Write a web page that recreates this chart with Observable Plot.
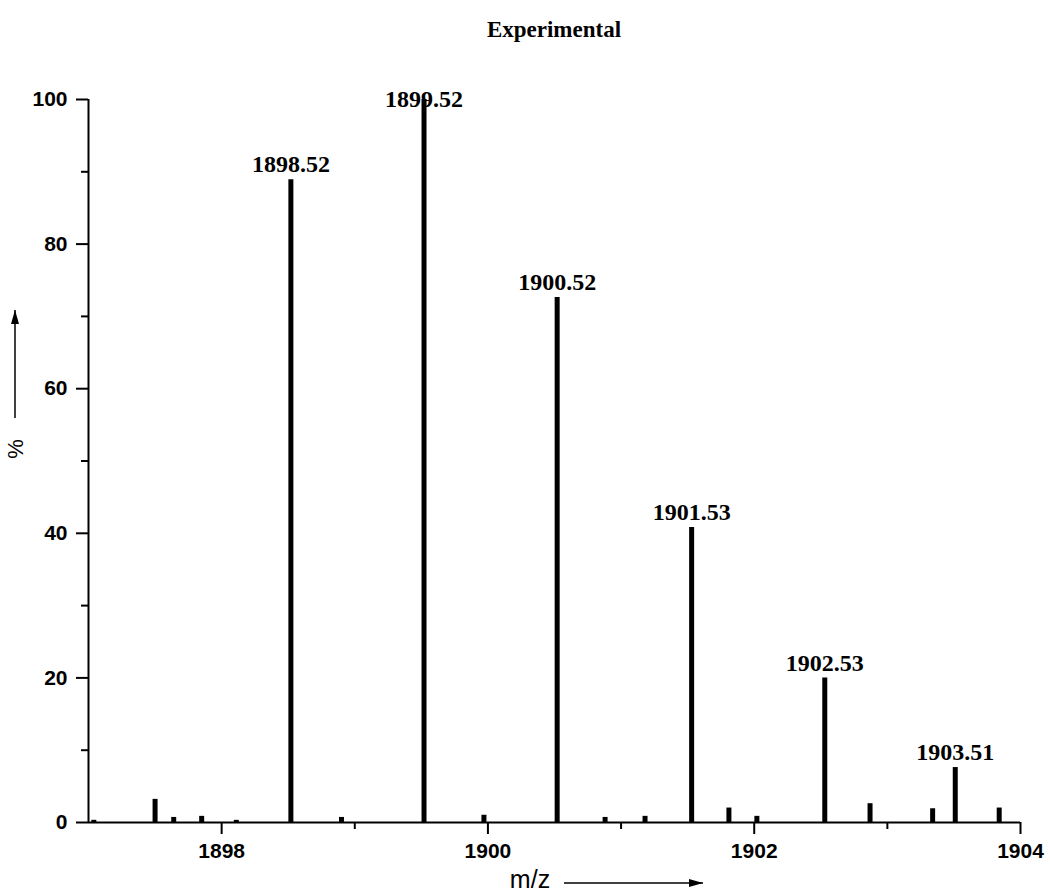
<!DOCTYPE html>
<html><head><meta charset="utf-8">
<script src="https://cdn.jsdelivr.net/npm/d3@7"></script>
<script src="https://cdn.jsdelivr.net/npm/@observablehq/plot@0.6"></script>
<style>
body{margin:0;background:#fff;}
#title{margin-left:88px;width:932px;height:60px;text-align:center;font:bold 23px/60px "Liberation Serif","Times New Roman",serif;color:#000;}
</style></head><body>
<div id="title">Experimental</div>
<div id="chart"></div>
<script>
// peak positions (m/z) and relative intensities (%)
const peakMz  = [1897.04, 1897.50, 1897.64, 1897.85, 1898.11, 1898.52, 1898.90, 1899.52, 1899.97, 1900.52, 1900.88, 1901.18, 1901.53, 1901.81, 1902.02, 1902.53, 1902.87, 1903.34, 1903.51, 1903.84];
const peakPct = [0.3,     3.2,     0.7,     0.85,    0.3,     88.9,    0.7,     100,     1.0,     72.6,    0.7,     0.85,    40.8,    2.0,     0.85,    20.0,    2.6,     1.9,     7.6,     2.0];
const labelMz = [1898.52, 1899.52, 1900.52, 1901.53, 1902.53, 1903.51];
const yMajorTicks = [0, 20, 40, 60, 80, 100];
const yMinorTicks = [10, 30, 50, 70, 90];
const xMajorTicks = [1898, 1900, 1902, 1904];
const xMinorTicks = [1899, 1901, 1903];
const xDomain = [1897, 1904];
const yDomain = [0, 100];
const xTitle = "m/z";
const yTitle = "%";

const peaks = peakMz.map((mz, i) => ({mz, pct: peakPct[i]}));
const labels = labelMz.map(mz => peaks.find(p => p.mz === mz));

const sans = "'Liberation Sans', Arial, sans-serif";
const serif = "'Liberation Serif', 'Times New Roman', serif";

const plot = Plot.plot({
  width: 1050, height: 835,
  marginTop: 39, marginBottom: 73, marginLeft: 88, marginRight: 30,
  style: {fontFamily: sans, background: "white", color: "black", overflow: "visible"},
  x: {domain: xDomain},
  y: {domain: yDomain},
  marks: [
    Plot.axisY({ticks: yMajorTicks, tickSize: 12, tickPadding: 9, tickFormat: d => String(d), fontSize: 21, fontWeight: "bold", strokeWidth: 2, label: null}),
    Plot.axisY({ticks: yMinorTicks, tickSize: 7, text: null, strokeWidth: 2, label: null}),
    Plot.axisX({ticks: xMajorTicks, tickSize: 12, tickPadding: 9, tickFormat: d => String(d), fontSize: 21, fontWeight: "bold", strokeWidth: 2, label: null}),
    Plot.axisX({ticks: xMinorTicks, tickSize: 7, text: null, strokeWidth: 2, label: null}),
    Plot.ruleX(peaks, {x: "mz", y1: 0, y2: "pct", stroke: "black", strokeWidth: 5}),
    Plot.ruleY([yDomain[0]], {stroke: "black", strokeWidth: 2}),
    Plot.ruleX([xDomain[0]], {stroke: "black", strokeWidth: 2}),
    Plot.text(labels, {x: "mz", y: d => Math.min(d.pct, 98), text: d => d.mz.toFixed(2), dy: -15,
      fontSize: 24, fontWeight: "bold", fontFamily: serif, fill: "black"})
  ]
});
document.getElementById("chart").appendChild(plot);

// axis titles with arrows
const svg = d3.select(plot);
const defs = svg.append("defs");
defs.append("marker").attr("id", "ah").attr("viewBox", "0 0 14 8").attr("refX", 14).attr("refY", 4)
  .attr("markerWidth", 14).attr("markerHeight", 8).attr("markerUnits", "userSpaceOnUse").attr("orient", "auto")
  .append("path").attr("d", "M0,0 L14,4 L0,8 Z").attr("fill", "black");
// X title
svg.append("text").attr("x", 530).attr("y", 821).attr("text-anchor", "middle").attr("dominant-baseline", "middle")
  .attr("font-family", sans).attr("font-size", 25).attr("fill", "black").text(xTitle);
svg.append("line").attr("x1", 564).attr("x2", 703).attr("y1", 823).attr("y2", 823)
  .attr("stroke", "black").attr("stroke-width", 1.5).attr("marker-end", "url(#ah)");
// Y title
svg.append("text").attr("transform", "translate(17,389) rotate(-90)").attr("text-anchor", "middle").attr("dominant-baseline", "middle")
  .attr("font-family", sans).attr("font-size", 22).attr("fill", "black").text(yTitle);
svg.append("line").attr("x1", 15).attr("x2", 15).attr("y1", 358).attr("y2", 250)
  .attr("stroke", "black").attr("stroke-width", 1.5).attr("marker-end", "url(#ah)");
</script>
</body></html>
